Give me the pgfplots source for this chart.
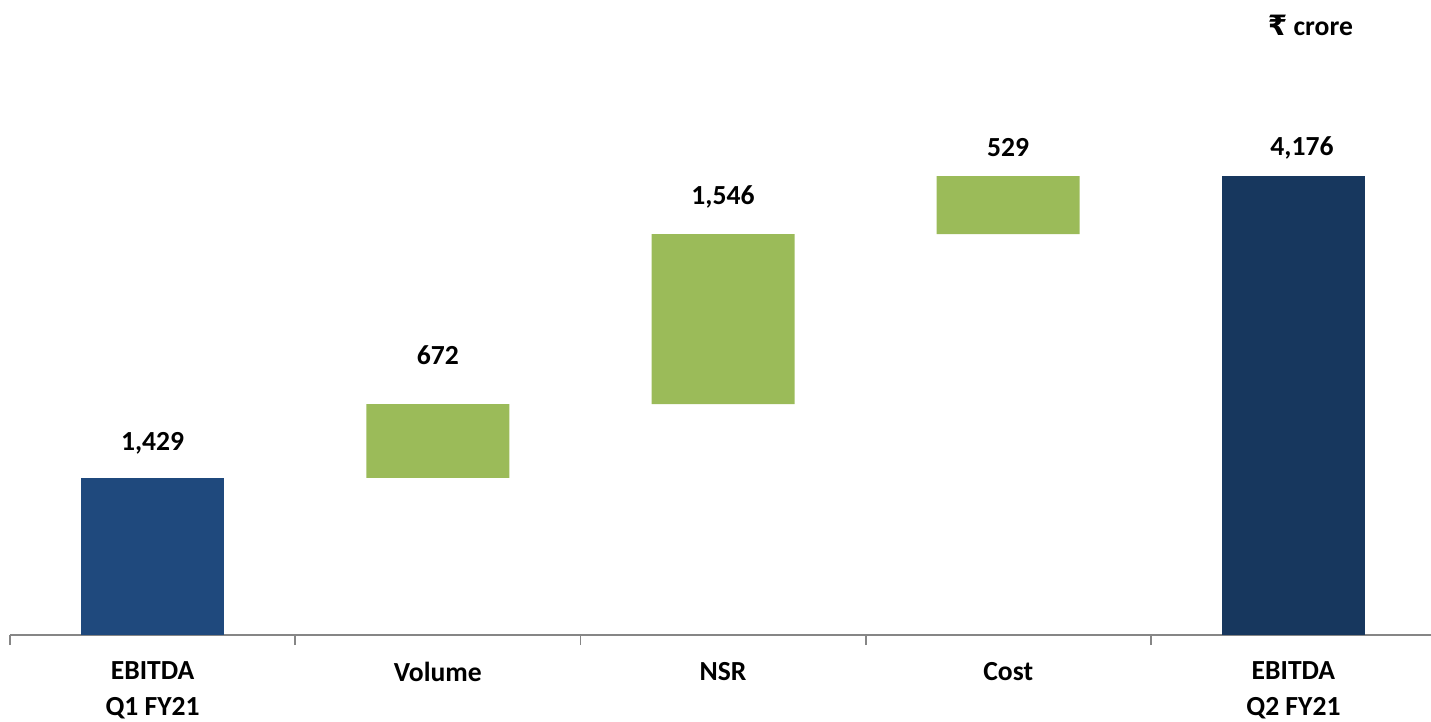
\documentclass[border=0pt]{standalone}
\usepackage{fontspec}
\setmainfont{Carlito}
\newfontfamily\rupeefont{DejaVu Sans}
\usepackage{pgfplots}
\pgfplotsset{compat=1.18}
\definecolor{startbar}{HTML}{1F497D}
\definecolor{endbar}{HTML}{17375E}
\definecolor{upbar}{HTML}{9BBB59}
\definecolor{axisgray}{HTML}{868686}
\begin{document}
\begin{tikzpicture}
\path[use as bounding box] (0pt,0pt) rectangle (715.5pt,-361pt);
\node[anchor=east, font=\fontsize{13.8}{16}\selectfont\bfseries] at (680pt,-12.5pt) {{\rupeefont\bfseries\fontsize{14}{16}\selectfont ₹} crore};
\begin{axis}[
    at={(5pt,-317.5pt)}, anchor=south west,
    scale only axis, width=713pt, height=274.75pt,
    xmin=-0.5, xmax=4.5, ymin=0, ymax=5000,
    enlargelimits=false, clip=false,
    ybar stacked, bar width=71.5pt,
    axis y line=none, axis x line=bottom,
    x axis line style={-, draw=axisgray, line width=0.9pt},
    xtick={0,1,2,3,4},
    xticklabels={{EBITDA\\Q1 FY21},Volume,NSR,Cost,{EBITDA\\Q2 FY21}},
    xticklabel style={align=center, font=\fontsize{13.8}{18}\selectfont\bfseries, yshift=-10pt},
    major tick length=0pt, tick align=outside,
    extra x ticks={-0.5,0.5,1.5,2.5,3.5,4.5},
    extra x tick labels={},
    extra x tick style={major tick length=5pt, tick style={draw=axisgray, line width=0.9pt}},
    nodes={font=\fontsize{13.8}{16}\selectfont\bfseries},
]
% invisible base of the floating bars
\addplot[fill=none, draw=none] coordinates {(0,0) (1,1429) (2,2101) (3,3647) (4,0)};
\addplot[fill=startbar, draw=none] coordinates {(0,1429) (1,0) (2,0) (3,0) (4,0)};
\addplot[fill=upbar, draw=none] coordinates {(0,0) (1,672) (2,1546) (3,529) (4,0)};
\addplot[fill=endbar, draw=none] coordinates {(0,0) (1,0) (2,0) (3,0) (4,4176)};

\node at (axis cs:0,1747) {1,429};
\node at (axis cs:1,2548) {672};
\node at (axis cs:2,3985) {1,546};
\node at (axis cs:3,4431) {529};
\node at (axis cs:4.03,4431) {4,176};
\end{axis}
\end{tikzpicture}
\end{document}
